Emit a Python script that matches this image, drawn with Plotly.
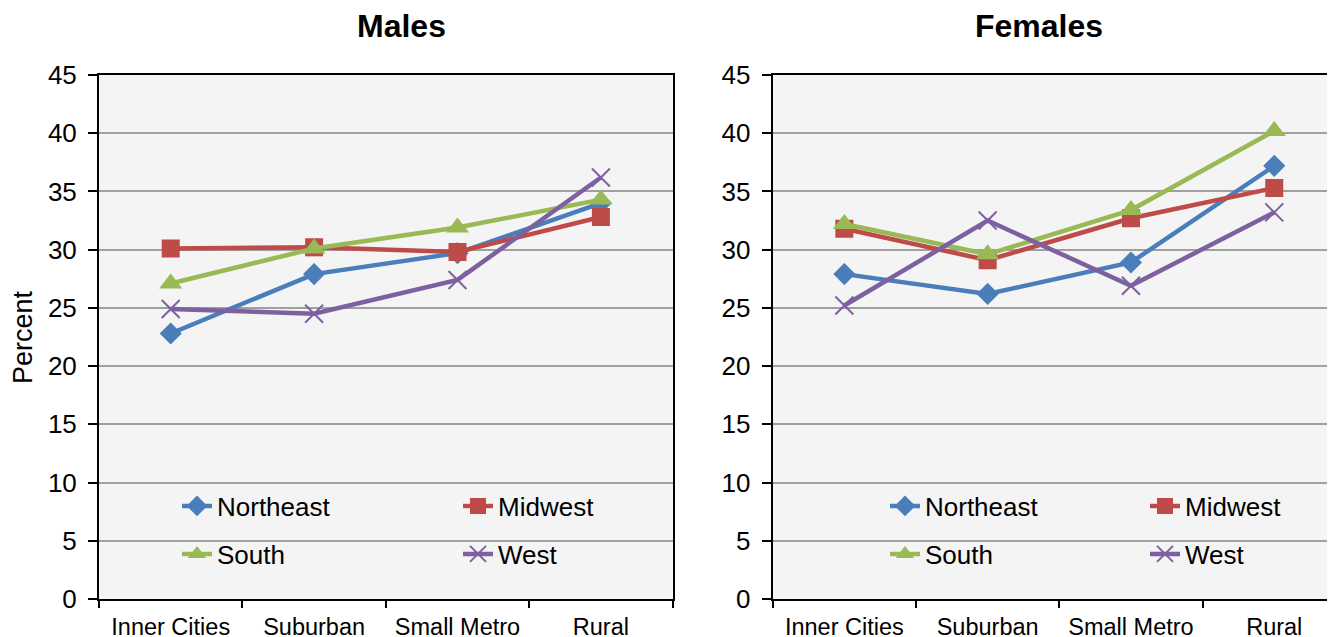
import plotly.graph_objects as go

categories = ["Inner Cities", "Suburban", "Small Metro", "Rural"]
regions = ["Northeast", "Midwest", "South", "West"]

males_northeast = [22.8, 27.9, 29.7, 34.0]
males_midwest = [30.1, 30.2, 29.8, 32.8]
males_south = [27.1, 30.1, 31.9, 34.3]
males_west = [24.9, 24.5, 27.4, 36.2]

females_northeast = [27.9, 26.2, 28.9, 37.2]
females_midwest = [31.8, 29.1, 32.7, 35.3]
females_south = [32.2, 29.6, 33.4, 40.2]
females_west = [25.2, 32.5, 26.9, 33.2]

y_ticks = [0, 5, 10, 15, 20, 25, 30, 35, 40, 45]

colors = {"Northeast": "#4A7EBB", "Midwest": "#BE4B48", "South": "#98B954", "West": "#7D60A0"}
symbols = {"Northeast": "diamond", "Midwest": "square", "South": "triangle-up", "West": "x-thin"}
msizes = {"Northeast": 17, "Midwest": 18, "South": 20, "West": 18}

males = dict(zip(regions, [males_northeast, males_midwest, males_south, males_west]))
females = dict(zip(regions, [females_northeast, females_midwest, females_south, females_west]))

FONT = "Liberation Sans, Arial, sans-serif"
# the page places the figure 8px from the top-left corner of the window
OFF = 8
W, H = 1335 - OFF, 637 - OFF
ML, MR, MT, MB = 91, 0, 67, 38
PW = W - ML - MR
PH = H - MT - MB


def px_to_paper_x(sx):
    return (sx - OFF - ML) / PW


def px_to_paper_y(sy):
    return (H - MB - (sy - OFF)) / PH


left_leg = {"Northeast": "legend", "Midwest": "legend", "South": "legend2", "West": "legend2"}
right_leg = {"Northeast": "legend3", "Midwest": "legend3", "South": "legend4", "West": "legend4"}
first_col = {"Northeast", "South"}

fig = go.Figure()


def marker_for(r):
    if r == "West":
        return dict(symbol=symbols[r], size=msizes[r], color=colors[r],
                    line=dict(color=colors[r], width=2))
    return dict(symbol=symbols[r], size=msizes[r], color=colors[r], line=dict(width=0))


for r in regions:
    kw = dict(legendwidth=236) if r in first_col else {}
    fig.add_trace(go.Scatter(x=categories, y=males[r], name=r, mode="lines+markers",
                             line=dict(color=colors[r], width=4.5), marker=marker_for(r),
                             xaxis="x", yaxis="y", legend=left_leg[r], **kw))
for r in regions:
    kw = dict(legendwidth=215) if r in first_col else {}
    fig.add_trace(go.Scatter(x=categories, y=females[r], name=r, mode="lines+markers",
                             line=dict(color=colors[r], width=4.5), marker=marker_for(r),
                             xaxis="x2", yaxis="y2", legend=right_leg[r], **kw))

axis_common_x = dict(
    type="category", categoryorder="array", categoryarray=categories,
    tickson="boundaries", ticks="outside", ticklen=7, tickwidth=2, tickcolor="black",
    showline=True, linecolor="black", linewidth=2, mirror=True,
    showgrid=False, zeroline=False, tickangle=0, automargin=False,
    ticklabelstandoff=6,
    tickfont=dict(family=FONT, size=23.5, color="black"),
    fixedrange=True,
)
axis_common_y = dict(
    range=[0, 45], tickvals=y_ticks, ticks="outside", ticklen=9, tickwidth=2,
    tickcolor="black", showline=True, linecolor="black", linewidth=2,
    showgrid=True, gridcolor="#A0A0A0", gridwidth=1.5, zeroline=False, automargin=False,
    ticklabelstandoff=6,
    tickfont=dict(family=FONT, size=26, color="black"),
    fixedrange=True,
)

left_end = px_to_paper_x(672.6)
right_start = px_to_paper_x(772.7)
right_range_end = -0.5 + (1335 - 772.7) / 143.3

leg_common = dict(orientation="h", bgcolor="rgba(0,0,0,0)", borderwidth=0,
                  font=dict(family=FONT, size=26, color="black"),
                  entrywidthmode="pixels", xanchor="left", yanchor="middle",
                  xref="paper", yref="paper", itemclick=False, itemdoubleclick=False)

row1_y = px_to_paper_y(506)
row2_y = px_to_paper_y(554)

fig.update_layout(
    width=W, height=H,
    margin=dict(l=ML, r=MR, t=MT, b=MB, pad=0, autoexpand=False),
    paper_bgcolor="white", plot_bgcolor="#F4F4F4",
    font=dict(family=FONT, color="black"),
    xaxis=dict(axis_common_x, domain=[0, left_end], anchor="y", range=[-0.5, 3.5]),
    yaxis=dict(axis_common_y, domain=[0, 1], anchor="x", mirror=True),
    xaxis2=dict(axis_common_x, domain=[right_start, 1], anchor="y2", range=[-0.5, right_range_end]),
    yaxis2=dict(axis_common_y, domain=[0, 1], anchor="x2", mirror=False),
    legend=dict(leg_common, x=px_to_paper_x(177), y=row1_y),
    legend2=dict(leg_common, x=px_to_paper_x(177), y=row2_y),
    legend3=dict(leg_common, x=px_to_paper_x(885), y=row1_y),
    legend4=dict(leg_common, x=px_to_paper_x(885), y=row2_y),
    annotations=[
        dict(text="<b>Males</b>", x=px_to_paper_x(401), y=px_to_paper_y(26), xref="paper", yref="paper",
             showarrow=False, xanchor="center", yanchor="middle",
             font=dict(family=FONT, size=32, color="black")),
        dict(text="<b>Females</b>", x=px_to_paper_x(1039), y=px_to_paper_y(26), xref="paper", yref="paper",
             showarrow=False, xanchor="center", yanchor="middle",
             font=dict(family=FONT, size=32, color="black")),
        dict(text="Percent", x=px_to_paper_x(23), y=px_to_paper_y(337), xref="paper", yref="paper",
             showarrow=False, xanchor="center", yanchor="middle", textangle=-90,
             font=dict(family=FONT, size=27, color="black")),
    ],
)

fig.write_html("out.html")
